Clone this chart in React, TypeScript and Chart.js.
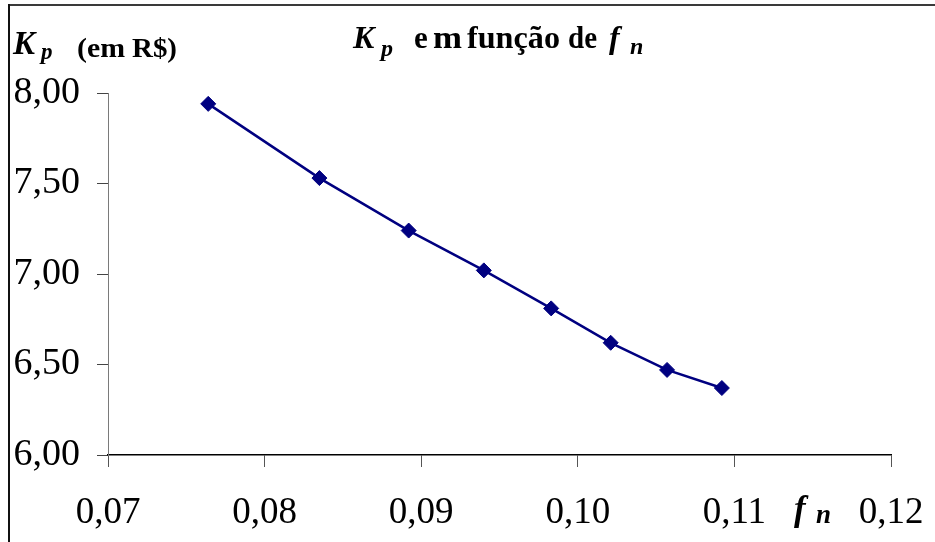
import React, { useEffect, useRef } from 'react';
import { Chart, registerables } from 'chart.js';

Chart.register(...registerables);

// Kp (em R$) as a function of fn
const fnValues = [0.0764, 0.0835, 0.0892, 0.094, 0.0983, 0.1021, 0.1057, 0.1092];
const kpValues = [7.94, 7.53, 7.24, 7.02, 6.81, 6.62, 6.47, 6.37];

const xTickValues = [0.07, 0.08, 0.09, 0.1, 0.11, 0.12];
const xTickLabels = ['0,07', '0,08', '0,09', '0,10', '0,11', '0,12'];
const yTickValues = [6.0, 6.5, 7.0, 7.5, 8.0];
const yTickLabels = ['6,00', '6,50', '7,00', '7,50', '8,00'];

const SERIF = '"Liberation Serif", "Times New Roman", Times, serif';
const NAVY = '#000080';

type Run = { t: string; st: string; size: number; x: number; y: number; w?: number };

// Title "Kp em função de fn"
const titleRuns: Run[] = [
  { t: 'K', st: 'italic bold', size: 32, x: 353, y: 48 },
  { t: 'p', st: 'italic bold', size: 24, x: 381, y: 56 },
  { t: 'e', st: 'bold', size: 31, x: 414, y: 48 },
  { t: 'm', st: 'bold', size: 31, x: 433, y: 48, w: 29 },
  { t: 'função', st: 'bold', size: 31, x: 467, y: 48, w: 93 },
  { t: 'de', st: 'bold', size: 31, x: 568, y: 48, w: 29 },
  { t: 'f', st: 'italic bold', size: 32, x: 609, y: 48 },
  { t: 'n', st: 'italic bold', size: 24, x: 630, y: 54 },
];

// Vertical axis caption "Kp (em R$)"
const yTitleRuns: Run[] = [
  { t: 'K', st: 'italic bold', size: 33, x: 13, y: 54 },
  { t: 'p', st: 'italic bold', size: 23, x: 41, y: 59 },
  { t: '(em', st: 'bold', size: 27, x: 77, y: 57, w: 48 },
  { t: 'R$)', st: 'bold', size: 27, x: 132, y: 57, w: 45 },
];

// Horizontal axis caption "fn"
const xTitleRuns: Run[] = [
  { t: 'f', st: 'italic bold', size: 35, x: 794, y: 520 },
  { t: 'n', st: 'italic bold', size: 27, x: 816, y: 523 },
];

function drawRuns(ctx: CanvasRenderingContext2D, runs: Run[]) {
  ctx.save();
  ctx.fillStyle = '#000';
  ctx.textBaseline = 'alphabetic';
  ctx.textAlign = 'left';
  for (const r of runs) {
    ctx.font = `${r.st} ${r.size}px ${SERIF}`;
    if (r.w) {
      const m = ctx.measureText(r.t).width;
      ctx.save();
      ctx.translate(r.x, r.y);
      ctx.scale(r.w / m, 1);
      ctx.fillText(r.t, 0, 0);
      ctx.restore();
    } else {
      ctx.fillText(r.t, r.x, r.y);
    }
  }
  ctx.restore();
}

const framePlugin = {
  id: 'frameAndCaptions',
  beforeDraw(chart: any) {
    const { ctx, width, height } = chart;
    ctx.save();
    ctx.fillStyle = '#fff';
    ctx.fillRect(0, 0, width, height);
    ctx.restore();
  },
  afterDraw(chart: any) {
    const { ctx, width, height } = chart;
    ctx.save();
    ctx.fillStyle = '#3a3a3a';
    ctx.fillRect(8, 4, width - 8, 2);
    ctx.fillStyle = '#111';
    ctx.fillRect(8, 4, 2, height - 4);
    ctx.restore();
    drawRuns(ctx, titleRuns);
    drawRuns(ctx, yTitleRuns);
    drawRuns(ctx, xTitleRuns);
  },
};

function labelFor(values: number[], labels: string[], v: number) {
  const i = values.findIndex((t) => Math.abs(t - v) < 1e-9);
  return i >= 0 ? labels[i] : '';
}

export default function App() {
  const canvasRef = useRef<HTMLCanvasElement | null>(null);

  useEffect(() => {
    const canvas = canvasRef.current;
    if (!canvas) return;
    const chart = new Chart(canvas, {
      type: 'line',
      data: {
        datasets: [
          {
            data: fnValues.map((x, i) => ({ x, y: kpValues[i] })),
            borderColor: NAVY,
            backgroundColor: NAVY,
            borderWidth: 2.5,
            pointStyle: 'rectRot',
            pointRadius: 7.5,
            pointBorderWidth: 1,
            pointBackgroundColor: NAVY,
            pointBorderColor: NAVY,
            tension: 0,
            fill: false,
          },
        ],
      },
      options: {
        responsive: false,
        animation: false,
        devicePixelRatio: 1,
        layout: { padding: { left: 0, top: 93, right: 44, bottom: 0 } },
        plugins: {
          legend: { display: false },
          tooltip: { enabled: false },
          title: { display: false },
        },
        scales: {
          x: {
            type: 'linear',
            min: 0.07,
            max: 0.12,
            afterBuildTicks: (s: any) => {
              s.ticks = xTickValues.map((value) => ({ value }));
            },
            afterFit: (s: any) => {
              s.height = 87;
              s.paddingLeft = 0;
              s.paddingRight = 0;
            },
            grid: { drawOnChartArea: false, drawTicks: true, tickLength: 12, color: '#555', lineWidth: 1 },
            border: { display: true, color: '#000', width: 1.5 },
            ticks: {
              font: { family: SERIF, size: 37 },
              color: '#000',
              padding: 24,
              maxRotation: 0,
              autoSkip: false,
              callback: (v: any) => labelFor(xTickValues, xTickLabels, Number(v)),
            },
          },
          y: {
            type: 'linear',
            min: 6,
            max: 8,
            afterBuildTicks: (s: any) => {
              s.ticks = yTickValues.map((value) => ({ value }));
            },
            afterFit: (s: any) => {
              s.width = 108;
              s.paddingTop = 0;
              s.paddingBottom = 0;
            },
            grid: { drawOnChartArea: false, drawTicks: true, tickLength: 11, color: '#444', lineWidth: 1 },
            border: { display: true, color: '#7a7a7a', width: 1 },
            ticks: {
              font: { family: SERIF, size: 38 },
              color: '#000',
              padding: 17,
              autoSkip: false,
              callback: (v: any) => labelFor(yTickValues, yTickLabels, Number(v)),
            },
          },
        },
      } as any,
      plugins: [framePlugin],
    });
    return () => chart.destroy();
  }, []);

  return (
    <div style={{ position: 'fixed', left: 0, top: 0, width: 935, height: 542, background: '#fff' }}>
      <canvas ref={canvasRef} width={935} height={542} style={{ display: 'block', width: 935, height: 542 }} />
    </div>
  );
}
